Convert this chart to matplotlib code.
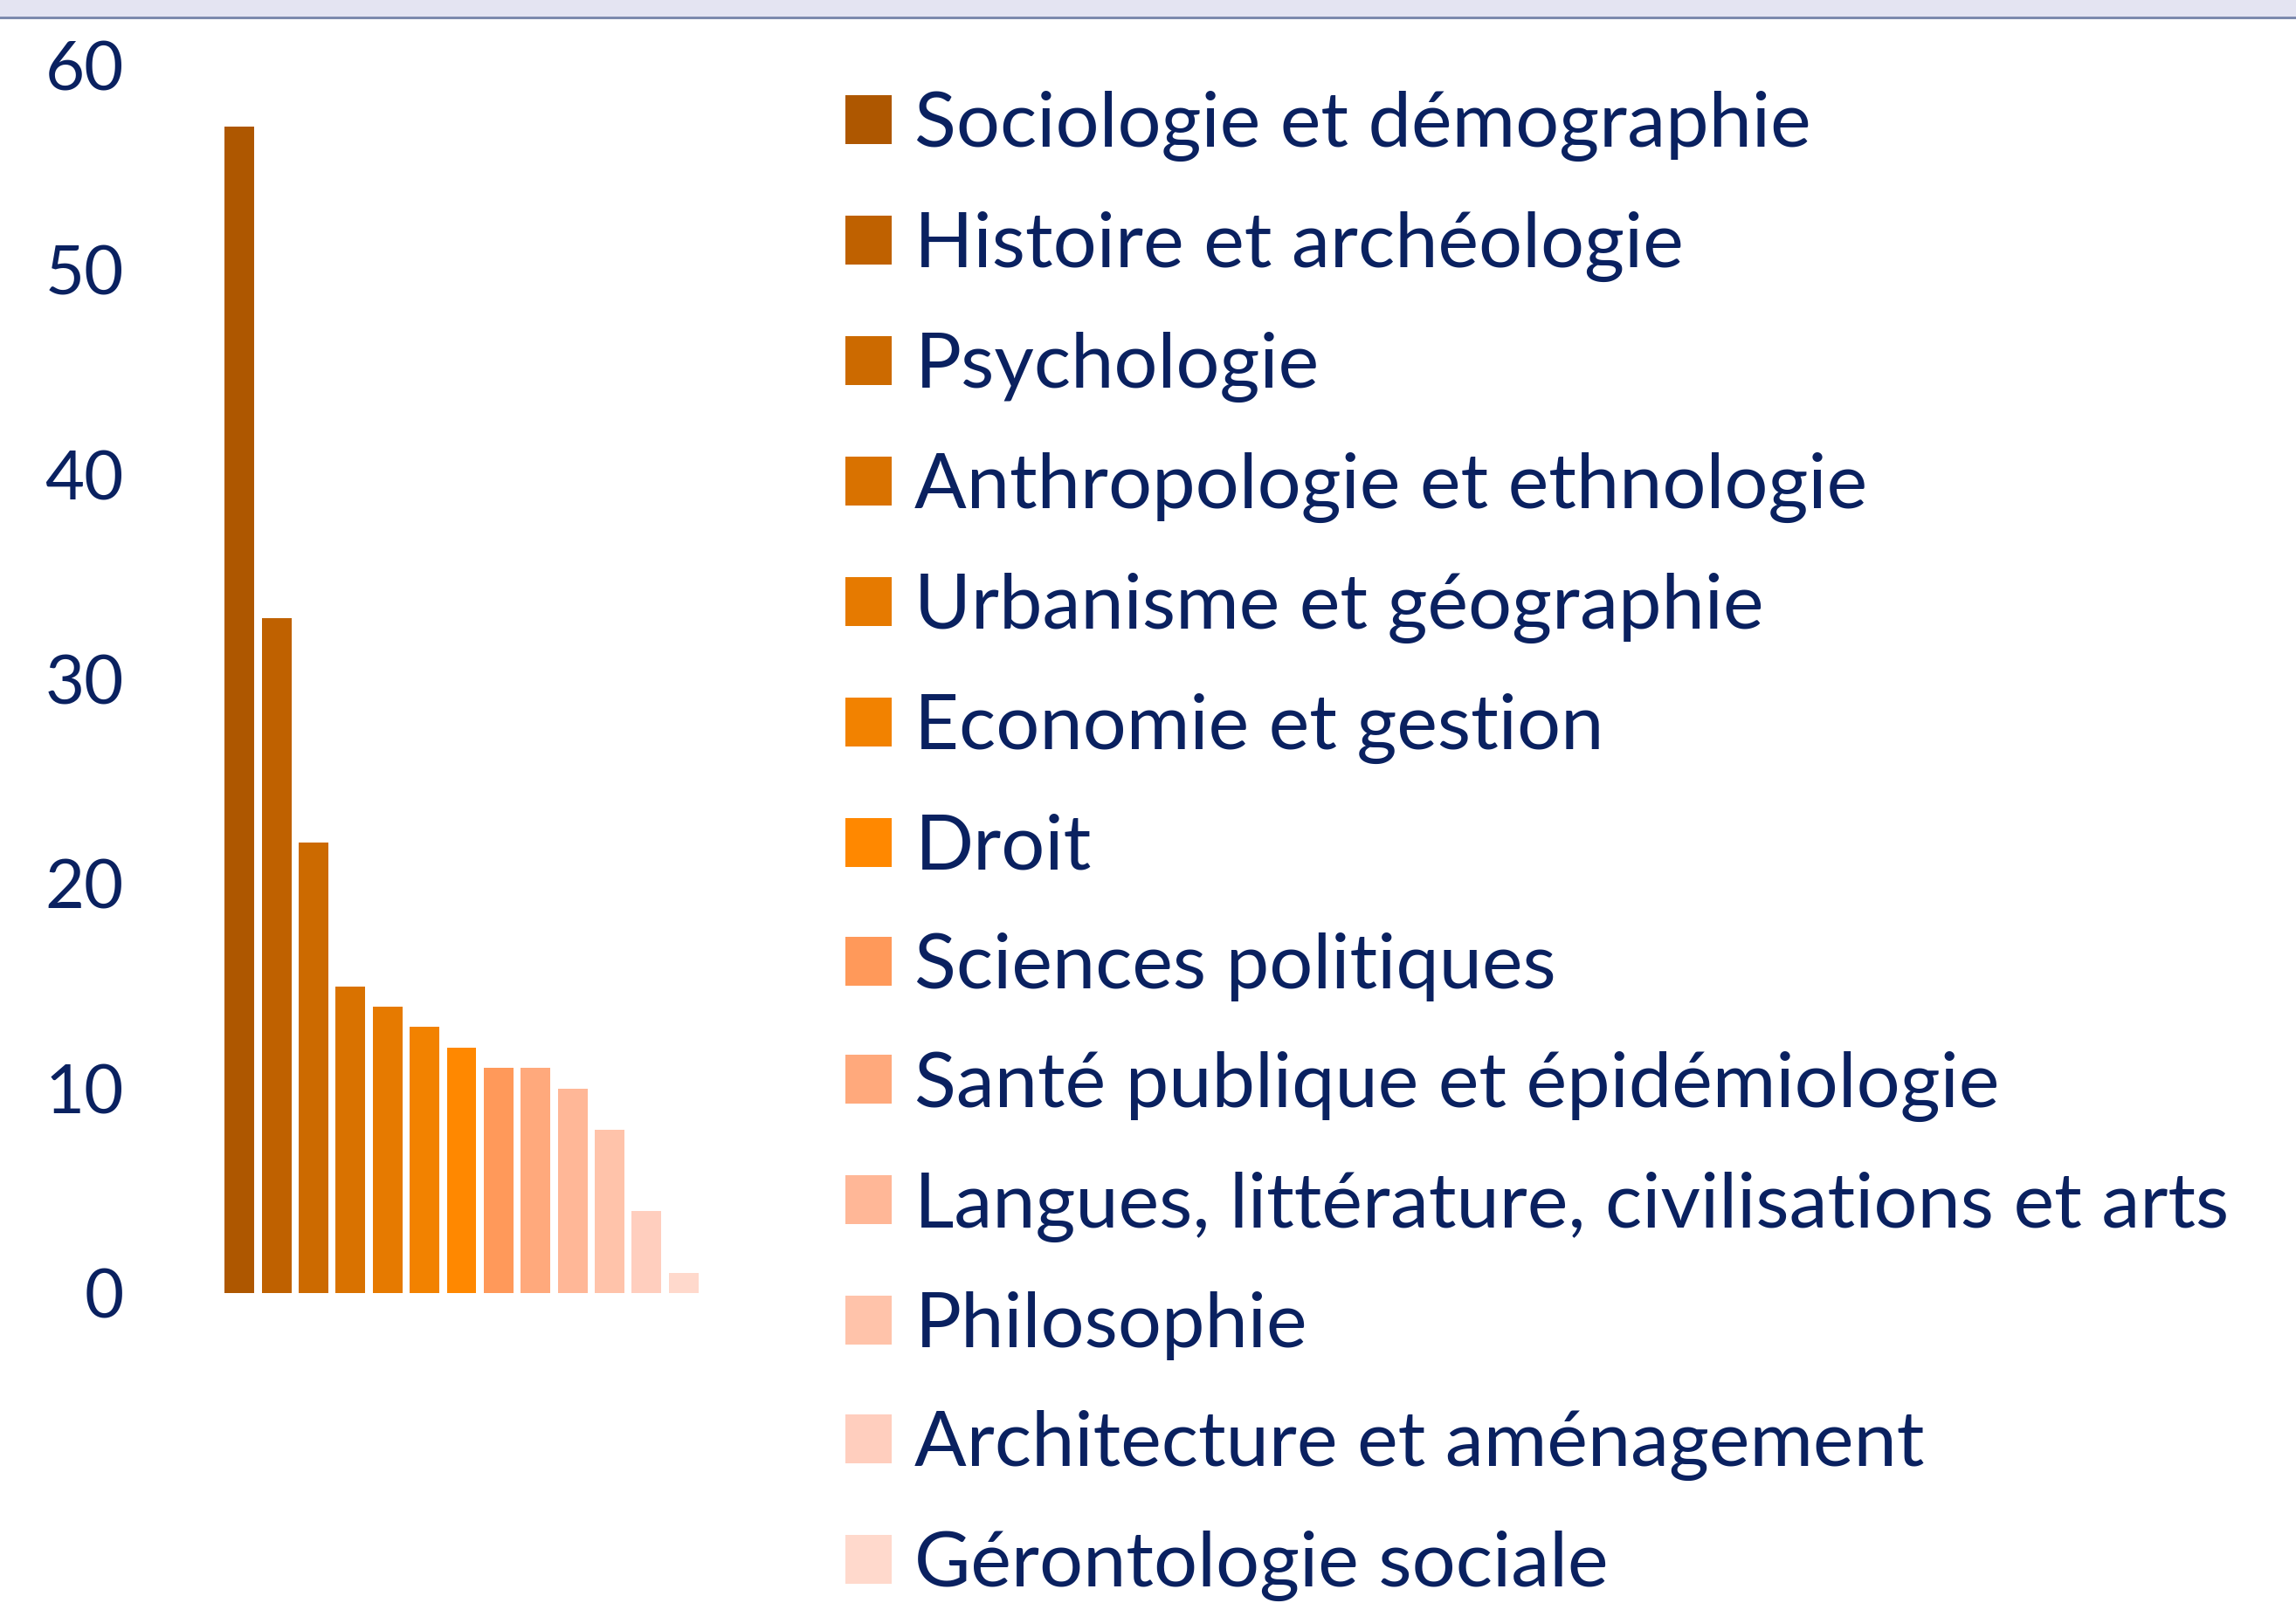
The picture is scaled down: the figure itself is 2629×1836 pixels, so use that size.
import matplotlib.pyplot as plt
from matplotlib.patches import Rectangle

# Données
disciplines = [
    "Sociologie et démographie",
    "Histoire et archéologie",
    "Psychologie",
    "Anthropologie et ethnologie",
    "Urbanisme et géographie",
    "Economie et gestion",
    "Droit",
    "Sciences politiques",
    "Santé publique et épidémiologie",
    "Langues, littérature, civilisations et arts",
    "Philosophie",
    "Architecture et aménagement",
    "Gérontologie sociale",
]
valeurs = [57, 33, 22, 15, 14, 13, 12, 11, 11, 10, 8, 4, 1]
couleurs = ["#AE5700", "#BF6100", "#CC6A00", "#D97200", "#E67A00", "#F28200",
            "#FF8800", "#FF995A", "#FFA97C", "#FFB797", "#FFC3AA", "#FFCEBE",
            "#FFD9CC"]
yticks = [0, 10, 20, 30, 40, 50, 60]

bleu = "#0A2160"
plt.rcParams['font.family'] = ['Lato', 'DejaVu Sans']

fig = plt.figure(figsize=(26.29, 18.36), dpi=100)

# bandeau en haut
fig.patches.append(Rectangle((0, 1 - 20 / 1836), 1, 20 / 1836, transform=fig.transFigure,
                             facecolor="#E4E4F2", edgecolor="none"))
fig.patches.append(Rectangle((0, 1 - 22 / 1836), 1, 2.5 / 1836, transform=fig.transFigure,
                             facecolor="#7D8AAE", edgecolor="none"))

ax = fig.add_axes([253 / 2629, 1 - 1481 / 1836, 551 / 2629, (1481 - 75) / 1836])
barres = ax.bar(range(len(valeurs)), valeurs, width=0.8, color=couleurs)
ax.set_xlim(-0.5, len(valeurs) - 0.5)
ax.set_ylim(0, 60)
ax.set_yticks(yticks)
ax.set_xticks([])
ax.tick_params(axis='y', length=0, pad=80, labelsize=56, labelcolor=bleu)
for s in ax.spines.values():
    s.set_visible(False)

fig.legend(barres, disciplines, loc='upper left', bbox_to_anchor=(968 / 2629, 1 - 104 / 1836),
           frameon=False, fontsize=63.5, labelcolor=bleu, borderpad=0, borderaxespad=0,
           handlelength=0.6, handleheight=0.6, handletextpad=0.3, labelspacing=0.645)

plt.savefig('out.png')
